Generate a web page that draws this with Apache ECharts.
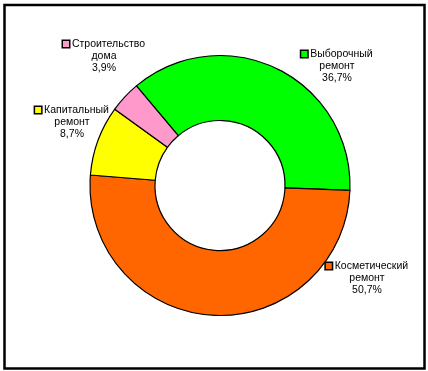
<!DOCTYPE html>
<html>
<head>
<meta charset="utf-8">
<script src="https://cdn.jsdelivr.net/npm/echarts@6/dist/echarts.min.js"></script>
<style>html,body{margin:0;padding:0;background:#fff}#c{width:428px;height:371px}</style>
</head>
<body>
<div id="c"></div>
<script>
const categories = ['Выборочный ремонт', 'Косметический ремонт', 'Капитальный ремонт', 'Строительство дома'];
const labelLines = [['Выборочный', 'ремонт'], ['Косметический', 'ремонт'], ['Капитальный', 'ремонт'], ['Строительство', 'дома']];
const values = [36.7, 50.7, 8.7, 3.9];
const valueLabels = ['36,7%', '50,7%', '8,7%', '3,9%'];
const colors = ['#00ff00', '#ff6600', '#ffff00', '#ff99cc'];

const labelPos = [[337, 54], [367, 266], [72, 110], [104, 44]];

const chart = echarts.init(document.getElementById('c'));
const data = categories.map((n, i) => ({
  name: n,
  value: values[i],
  itemStyle: { color: colors[i] },
  label: {
    formatter: '{sq|}{t| ' + labelLines[i][0] + '}\n{t|' + labelLines[i][1] + '}\n{t|' + valueLabels[i] + '}',
    rich: {
      sq: { width: 6, height: 6, backgroundColor: colors[i], borderColor: '#000', borderWidth: 1.5 },
      t: { fontFamily: 'Liberation Sans, Arial, sans-serif', fontSize: 10.5, color: '#000', lineHeight: 12 }
    }
  }
}));

chart.setOption({
  animation: false,
  backgroundColor: '#fff',
  graphic: [{
    type: 'rect',
    shape: { x: 4.5, y: 5, width: 420, height: 363.5 },
    style: { fill: 'none', stroke: '#000', lineWidth: 2.5 },
    silent: true
  }],
  series: [{
    type: 'pie',
    center: [220, 185.5],
    radius: [65, 130],
    startAngle: 130,
    clockwise: true,
    data: data,
    itemStyle: { borderColor: '#000', borderWidth: 1.2 },
    label: {
      show: true,
      position: 'outside',
      alignTo: 'none',
      overflow: 'none',
      width: 200,
      align: 'center',
      verticalAlign: 'top'
    },
    labelLine: { show: false },
    labelLayout: function (p) {
      const pos = labelPos[p.dataIndex];
      return { x: pos[0], y: pos[1] - 6, align: 'center', verticalAlign: 'top' };
    }
  }]
});
</script>
</body>
</html>
